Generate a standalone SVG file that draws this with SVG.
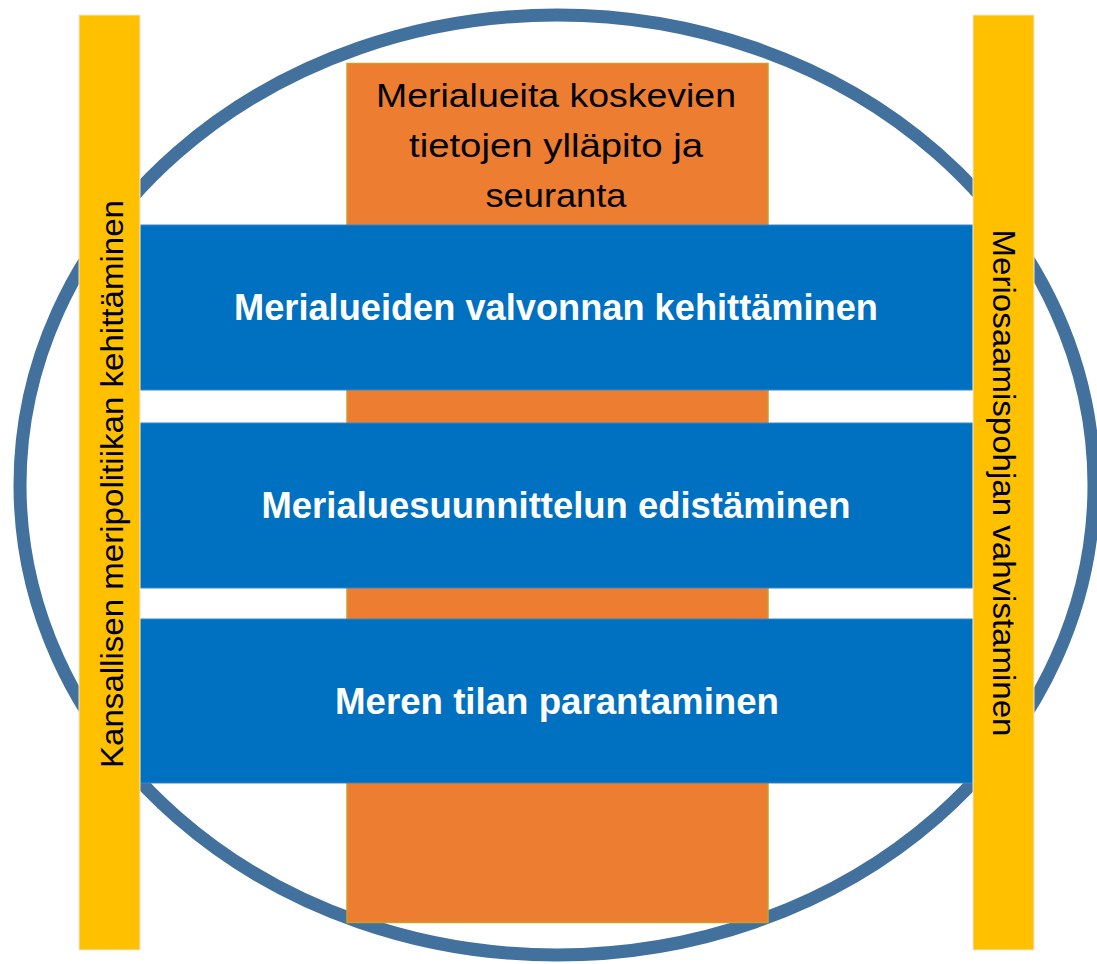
<svg xmlns="http://www.w3.org/2000/svg" width="1097" height="964" viewBox="0 0 1097 964">
<style>
.ring{fill:none;stroke:#41719C;stroke-width:13}
.orange{fill:#ED7D31;stroke:#C9A02A;stroke-width:1.5}
.band{fill:#0070C0;stroke:#3B86CC;stroke-width:1}
.bar{fill:#FFC000;stroke:#E8E8E8;stroke-width:1}
.t{font-family:"Liberation Sans",Arial,sans-serif;fill:#000;text-anchor:middle}
.ot{font-size:33px}
.bt{font-size:36px;font-weight:bold;fill:#FFFFFF}
.vt{font-size:32px}
</style>
<rect width="1097" height="964" fill="#FFFFFF"/>
<g id="ring"><ellipse class="ring" cx="557" cy="485" rx="537" ry="470"/></g>
<g id="node-tiedot">
<rect class="orange" x="347" y="63.5" width="421" height="859"/>
<text class="t ot" x="556" y="106.5" textLength="360" lengthAdjust="spacingAndGlyphs">Merialueita koskevien</text>
<text class="t ot" x="556" y="156.5" textLength="294" lengthAdjust="spacingAndGlyphs">tietojen ylläpito ja</text>
<text class="t ot" x="556" y="206.5" textLength="141" lengthAdjust="spacingAndGlyphs">seuranta</text>
</g>
<g id="node-valvonta">
<rect class="band" x="140" y="225" width="833" height="165"/>
<text class="t bt" x="556" y="320" textLength="644" lengthAdjust="spacingAndGlyphs">Merialueiden valvonnan kehittäminen</text>
</g>
<g id="node-suunnittelu">
<rect class="band" x="140" y="423" width="833" height="165"/>
<text class="t bt" x="556" y="518" textLength="589" lengthAdjust="spacingAndGlyphs">Merialuesuunnittelun edistäminen</text>
</g>
<g id="node-tila">
<rect class="band" x="140" y="619" width="833" height="164"/>
<text class="t bt" x="557" y="714" textLength="444" lengthAdjust="spacingAndGlyphs">Meren tilan parantaminen</text>
</g>
<g id="node-meripolitiikka">
<rect class="bar" x="79" y="15" width="61" height="935"/>
<text class="t vt" transform="translate(122.5 484) rotate(-90)" x="0" y="0" textLength="568" lengthAdjust="spacingAndGlyphs">Kansallisen meripolitiikan kehittäminen</text>
</g>
<g id="node-meriosaaminen">
<rect class="bar" x="973" y="15" width="61" height="935"/>
<text class="t vt" transform="translate(992.5 483) rotate(90)" x="0" y="0" textLength="507" lengthAdjust="spacingAndGlyphs">Meriosaamispohjan vahvistaminen</text>
</g>
<g id="connectors"></g>
</svg>
